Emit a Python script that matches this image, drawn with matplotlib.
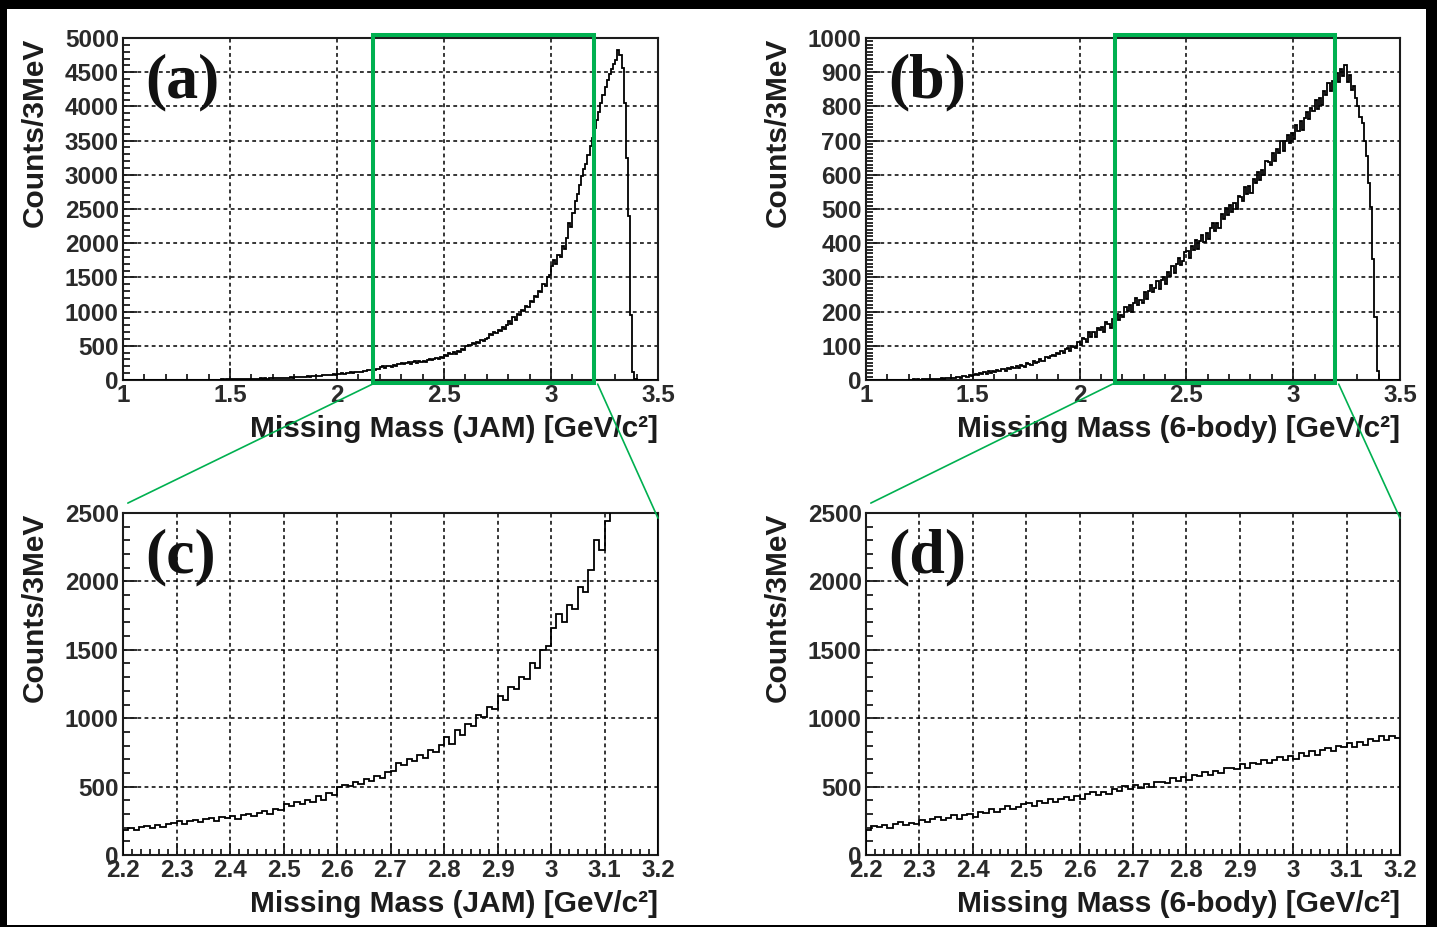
import numpy as np
import matplotlib
matplotlib.use("Agg")
import matplotlib.pyplot as plt
from matplotlib.patches import Rectangle, ConnectionPatch
from matplotlib.ticker import MultipleLocator, FuncFormatter

# histogram binning: 10 MeV bins from 1.0 to 3.5 GeV/c^2 (values are counts/3MeV)
mass_lo = 1.0
mass_hi = 3.5
n_bins = 250

# JAM simulation, one row per 0.1 GeV
jam_counts = [
    0, 0, 0, 0, 0, 0, 0, 0, 0, 0,
    0, 0, 0, 0, 0, 0, 0, 0, 0, 0,
    0, 0, 1, 0, 0, 1, 0, 1, 1, 0,
    1, 1, 2, 1, 2, 2, 3, 2, 3, 4,
    3, 5, 4, 6, 5, 7, 8, 7, 9, 10,
    11, 9, 13, 12, 10, 15, 14, 12, 17, 16,
    18, 15, 20, 19, 23, 19, 24, 21, 26, 25,
    27, 24, 30, 28, 33, 30, 36, 34, 37, 36,
    41, 39, 44, 43, 49, 45, 52, 50, 57, 55,
    58, 64, 61, 66, 70, 68, 77, 72, 81, 80,
    90, 87, 97, 93, 101, 99, 110, 106, 115, 113,
    124, 121, 134, 128, 141, 139, 152, 150, 164, 166,
    185, 198, 180, 203, 210, 196, 219, 205, 228, 236,
    246, 228, 250, 259, 240, 262, 271, 250, 276, 268,
    285, 266, 291, 300, 288, 309, 320, 303, 336, 326,
    372, 355, 390, 376, 405, 384, 428, 405, 452, 440,
    498, 515, 506, 535, 522, 553, 540, 578, 566, 605,
    612, 670, 655, 702, 688, 730, 712, 768, 752, 805,
    860, 812, 915, 880, 960, 945, 1025, 1010, 1085, 1065,
    1160, 1135, 1225, 1210, 1300, 1290, 1400, 1370, 1500, 1530,
    1660, 1760, 1700, 1830, 1795, 1960, 1920, 2080, 2300, 2230,
    2440, 2610, 2720, 2850, 2980, 3080, 3160, 3290, 3420, 3540,
    3680, 3800, 3920, 4050, 4160, 4290, 4390, 4480, 4550, 4620,
    4680, 4820, 4750, 4560, 4050, 3250, 2400, 950, 120, 10,
    0, 0, 0, 0, 0, 0, 0, 0, 0, 0,
]

# 6-body phase space, one row per 0.1 GeV
six_body_counts = [
    0, 0, 0, 0, 0, 1, 0, 0, 1, 0,
    0, 1, 0, 1, 1, 0, 1, 1, 0, 1,
    1, 1, 2, 1, 2, 1, 2, 3, 2, 2,
    3, 2, 4, 3, 4, 5, 4, 6, 5, 6,
    7, 5, 9, 8, 6, 11, 12, 9, 14, 13,
    15, 19, 14, 21, 17, 23, 18, 25, 20, 27,
    22, 29, 25, 31, 33, 27, 36, 32, 38, 35,
    41, 35, 45, 42, 38, 50, 47, 44, 55, 51,
    52, 61, 57, 55, 67, 63, 70, 74, 69, 78,
    76, 86, 79, 90, 95, 86, 100, 97, 94, 110,
    102, 123, 121, 110, 139, 125, 141, 126, 151, 145,
    154, 141, 169, 163, 151, 178, 170, 192, 174, 190,
    183, 214, 202, 219, 198, 224, 239, 218, 235, 224,
    256, 238, 261, 277, 256, 268, 289, 265, 293, 302,
    281, 315, 305, 334, 312, 339, 356, 335, 348, 373,
    377, 357, 393, 379, 410, 384, 407, 424, 404, 429,
    413, 443, 459, 437, 460, 445, 484, 470, 503, 481,
    513, 492, 518, 500, 537, 534, 524, 564, 544, 568,
    548, 587, 576, 609, 586, 615, 598, 639, 637, 629,
    664, 639, 674, 664, 698, 670, 698, 716, 694, 722,
    704, 747, 727, 758, 732, 767, 784, 763, 794, 786,
    818, 793, 824, 805, 845, 834, 868, 844, 873, 856,
    898, 871, 910, 889, 920, 870, 892, 847, 860, 824,
    800, 770, 752, 700, 655, 575, 505, 355, 185, 25,
    0, 0, 0, 0, 0, 0, 0, 0, 0, 0,
]

panel_tags = ["(a)", "(b)", "(c)", "(d)"]
x_titles = ["Missing Mass (JAM) [GeV/c²]", "Missing Mass (6-body) [GeV/c²]"]
y_title = "Counts/3MeV"
zoom_range = (2.2, 3.2)

edges = np.linspace(mass_lo, mass_hi, n_bins + 1)
jam = np.array(jam_counts, dtype=float)
six = np.array(six_body_counts, dtype=float)

W, H = 1437, 927
green = "#00B050"
ink = "#1c1c1c"

plt.rcParams["font.family"] = ["Liberation Sans", "DejaVu Sans"]

fig = plt.figure(figsize=(W / 100, H / 100), dpi=100, facecolor="black")
fig.patches.append(Rectangle((7 / W, 2 / H), 1419 / W, 916 / H,
                             transform=fig.transFigure, facecolor="white",
                             edgecolor="none", zorder=-10))


def px_axes(left, top, right, bottom):
    return fig.add_axes([left / W, 1 - bottom / H, (right - left) / W, (bottom - top) / H])


ax_a = px_axes(123, 38, 658, 380)
ax_b = px_axes(866, 38, 1400, 380)
ax_c = px_axes(123, 513, 658, 855)
ax_d = px_axes(866, 513, 1400, 855)

fmt = FuncFormatter(lambda v, p: "%g" % v)


def style(ax, xmaj, xmin, ymaj, ymin, tag, xtitle):
    ax.set_facecolor("white")
    ax.xaxis.set_major_locator(MultipleLocator(xmaj))
    ax.xaxis.set_minor_locator(MultipleLocator(xmin))
    ax.yaxis.set_major_locator(MultipleLocator(ymaj))
    ax.yaxis.set_minor_locator(MultipleLocator(ymin))
    ax.xaxis.set_major_formatter(fmt)
    ax.yaxis.set_major_formatter(fmt)
    ax.tick_params(axis="both", which="both", direction="in", colors=ink,
                   labelcolor="#2a2a2a", top=False, right=False, width=1.3)
    ax.tick_params(axis="both", which="major", labelsize=17.5, pad=3)
    ax.tick_params(axis="y", which="major", length=10)
    ax.tick_params(axis="y", which="minor", length=5)
    ax.tick_params(axis="x", which="major", length=9)
    ax.tick_params(axis="x", which="minor", length=4.5)
    for lab in ax.get_xticklabels() + ax.get_yticklabels():
        lab.set_fontweight("bold")
    for s in ax.spines.values():
        s.set_linewidth(1.5)
        s.set_color(ink)
    ax.grid(True, which="major", color="black", linewidth=1.1,
            linestyle=(0, (2.5, 2.2)), zorder=0)
    ax.set_axisbelow(True)
    ax.text(-0.165, 1.0, y_title, transform=ax.transAxes, rotation=90,
            ha="center", va="top", fontsize=21.5, fontweight="bold", color=ink)
    ax.text(1.0, -0.143, xtitle, transform=ax.transAxes, ha="right",
            va="center", fontsize=21.5, fontweight="bold", color=ink)
    ax.text(0.041, 0.87, tag, transform=ax.transAxes, ha="left", va="center",
            fontsize=46, fontweight="bold", family="Liberation Serif", color="#111111")


# full range panels
for ax, counts in ((ax_a, jam), (ax_b, six)):
    ax.stairs(counts, edges, color="black", linewidth=1.3, baseline=None, zorder=3)
    ax.set_xlim(mass_lo, mass_hi)

# zoomed panels (only the bins inside the zoom window)
inside = (edges[:-1] >= zoom_range[0] - 1e-9) & (edges[1:] <= zoom_range[1] + 1e-9)
zedges = np.append(edges[:-1][inside], edges[1:][inside][-1])
for ax, counts in ((ax_c, jam), (ax_d, six)):
    ax.stairs(counts[inside], zedges, color="black", linewidth=1.3, baseline=0, zorder=3)
    ax.set_xlim(*zoom_range)
    ax.set_ylim(0, 2500)

ax_a.set_ylim(0, 5000)
ax_b.set_ylim(0, 1000)

style(ax_a, 0.5, 0.1, 500, 100, panel_tags[0], x_titles[0])
style(ax_b, 0.5, 0.1, 100, 10, panel_tags[1], x_titles[1])
style(ax_c, 0.1, 0.1 / 6, 500, 100, panel_tags[2], x_titles[0])
style(ax_d, 0.1, 0.1 / 6, 500, 100, panel_tags[3], x_titles[1])

# green zoom boxes and connectors
for top_ax, bot_ax, x0, x1, xl, xr in ((ax_a, ax_c, 2.166, 3.199, 2.166, 3.218),
                                       (ax_b, ax_d, 2.165, 3.195, 2.154, 3.213)):
    tr = top_ax.get_xaxis_transform()
    top_ax.add_patch(Rectangle((x0, -0.009), x1 - x0, 1.018, transform=tr,
                               fill=False, edgecolor=green, linewidth=2.9,
                               clip_on=False, zorder=5))
    for xa, xyb in ((xl, (0.009, 1.029)), (xr, (1.0, 0.985))):
        con = ConnectionPatch(xyA=(xa, -0.012), coordsA=tr, xyB=xyb,
                              coordsB=bot_ax.transAxes, color=green,
                              linewidth=1.2, zorder=6)
        fig.add_artist(con)

fig.savefig("out.png", dpi=100, facecolor=fig.get_facecolor())
